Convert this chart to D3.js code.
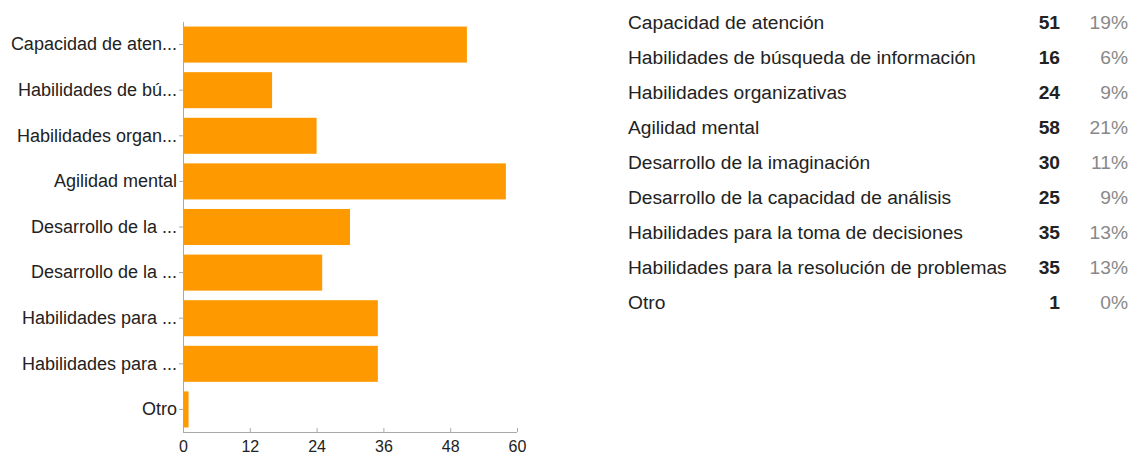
<!DOCTYPE html>
<html>
<head>
<meta charset="utf-8">
<script src="https://cdn.jsdelivr.net/npm/d3@7"></script>
<style>
  body { margin: 0; background: #fff; }
  svg { display: block; font-family: Arial, "Liberation Sans", sans-serif; }
</style>
</head>
<body>
<svg width="1131" height="457"></svg>
<script>
// DATA ////////////////////////////////////////////////////////////////////////
const labels = [
  'Capacidad de atención',
  'Habilidades de búsqueda de información',
  'Habilidades organizativas',
  'Agilidad mental',
  'Desarrollo de la imaginación',
  'Desarrollo de la capacidad de análisis',
  'Habilidades para la toma de decisiones',
  'Habilidades para la resolución de problemas',
  'Otro'
];
const shortLabels = [
  'Capacidad de aten...',
  'Habilidades de bú...',
  'Habilidades organ...',
  'Agilidad mental',
  'Desarrollo de la ...',
  'Desarrollo de la ...',
  'Habilidades para ...',
  'Habilidades para ...',
  'Otro'
];
const counts = [51, 16, 24, 58, 30, 25, 35, 35, 1];
const percents = ['19%', '6%', '9%', '21%', '11%', '9%', '13%', '13%', '0%'];
const xTicks = [0, 12, 24, 36, 48, 60];

// SET PARAMETERS //////////////////////////////////////////////////////////////
const svg = d3.select('svg');
const margin = { top: 22, left: 183 };
const width = 334;
const height = 410;
const font = 'Arial, "Liberation Sans", sans-serif';
const g = svg
  .append('g')
  .attr('transform', `translate(${margin.left},${margin.top})`);

const x = d3.scaleLinear().domain([0, 60]).range([0, width]);
const y = d3
  .scaleBand()
  .domain(d3.range(labels.length))
  .range([0, height])
  .paddingInner(0.21)
  .paddingOuter(0.1);

// DRAW ///////////////////////////////////////////////////////////////////////
// bars
g.selectAll('.bar')
  .data(counts)
  .enter()
  .append('rect')
  .attr('class', 'bar')
  .attr('x', x(0))
  .attr('y', (d, i) => y(i))
  .attr('width', d => x(d) - x(0))
  .attr('height', y.bandwidth())
  .attr('fill', '#ff9900');

// y axis
const yAxis = g
  .append('g')
  .call(
    d3
      .axisLeft(y)
      .tickSize(4)
      .tickPadding(2)
      .tickFormat(i => shortLabels[i])
  );
yAxis.select('.domain').attr('stroke', '#aaa').attr('d', `M0.5,0V${height}`);
yAxis.selectAll('.tick line').attr('stroke', '#aaa');
yAxis
  .selectAll('.tick text')
  .attr('fill', '#222')
  .style('font-size', '18px')
  .style('font-family', font);

// x axis
const xAxis = g
  .append('g')
  .attr('transform', `translate(0,${height})`)
  .call(d3.axisBottom(x).tickValues(xTicks).tickSize(-4).tickPadding(9));
xAxis.select('.domain').attr('stroke', '#aaa').attr('d', `M0,0.5H${width}`);
xAxis.selectAll('.tick line').attr('stroke', '#aaa');
xAxis
  .selectAll('.tick text')
  .attr('fill', '#222')
  .style('font-size', '16px')
  .style('font-family', font);

// summary table
const rowY = d3
  .scalePoint()
  .domain(d3.range(labels.length))
  .range([22, 302]);

const rows = svg
  .append('g')
  .selectAll('.row')
  .data(labels)
  .enter()
  .append('g')
  .attr('class', 'row')
  .attr('transform', (d, i) => `translate(0,${rowY(i)})`);

rows
  .append('text')
  .attr('x', 628)
  .attr('dy', '0.35em')
  .style('font-size', '19.2px')
  .attr('fill', '#222')
  .text(d => d);

rows
  .append('text')
  .attr('x', 1060)
  .attr('dy', '0.35em')
  .attr('text-anchor', 'end')
  .style('font-size', '19.2px')
  .style('font-weight', 'bold')
  .attr('fill', '#222')
  .text((d, i) => counts[i]);

rows
  .append('text')
  .attr('x', 1128)
  .attr('dy', '0.35em')
  .attr('text-anchor', 'end')
  .style('font-size', '19.2px')
  .attr('fill', '#888')
  .text((d, i) => percents[i]);
</script>
</body>
</html>
